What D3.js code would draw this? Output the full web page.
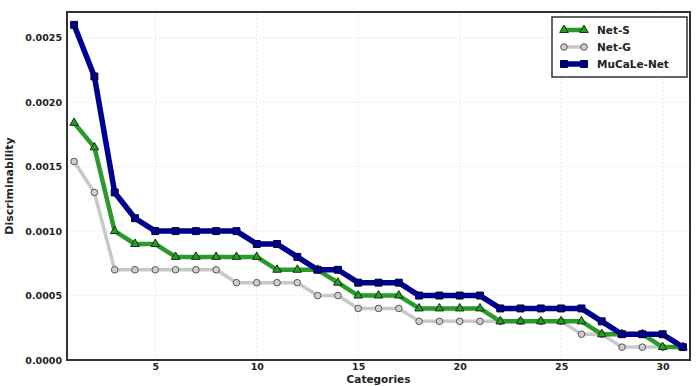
<!DOCTYPE html>
<html>
<head>
<meta charset="utf-8">
<script src="https://cdn.jsdelivr.net/npm/d3@7"></script>
<style>
  body { margin: 0; background: #fff; }
  text { font-family: "DejaVu Sans", sans-serif; font-weight: bold; fill: #222; }
</style>
</head>
<body>
<div id="chart"></div>
<script>
var categories = d3.range(1, 32);
var netS = [0.00184, 0.00165, 0.0010, 0.0009, 0.0009, 0.0008, 0.0008, 0.0008, 0.0008, 0.0008,
            0.0007, 0.0007, 0.0007, 0.0006, 0.0005, 0.0005, 0.0005, 0.0004, 0.0004, 0.0004,
            0.0004, 0.0003, 0.0003, 0.0003, 0.0003, 0.0003, 0.0002, 0.0002, 0.0002, 0.0001, 0.0001];
var netG = [0.00154, 0.0013, 0.0007, 0.0007, 0.0007, 0.0007, 0.0007, 0.0007, 0.0006, 0.0006,
            0.0006, 0.0006, 0.0005, 0.0005, 0.0004, 0.0004, 0.0004, 0.0003, 0.0003, 0.0003,
            0.0003, 0.0003, 0.0003, 0.0003, 0.0003, 0.0002, 0.0002, 0.0001, 0.0001, 0.0001, 0.0001];
var mucale = [0.0026, 0.0022, 0.0013, 0.0011, 0.0010, 0.0010, 0.0010, 0.0010, 0.0010, 0.0009,
              0.0009, 0.0008, 0.0007, 0.0007, 0.0006, 0.0006, 0.0006, 0.0005, 0.0005, 0.0005,
              0.0005, 0.0004, 0.0004, 0.0004, 0.0004, 0.0004, 0.0003, 0.0002, 0.0002, 0.0002, 0.0001];
var xTicks = [5, 10, 15, 20, 25, 30];
var yTicks = [0, 0.0005, 0.0010, 0.0015, 0.0020, 0.0025];

function drawChart() {
    var width = 700, height = 386;
    var margin = {left: 67, right: 10, top: 12, bottom: 26};

    var svg = d3.select('#chart').append('svg')
        .attr('width', width)
        .attr('height', height);

    var x = d3.scaleLinear().domain([0.65, 31.35]).range([margin.left, width - margin.right]);
    var y = d3.scaleLinear().domain([0, 0.0027]).range([height - margin.bottom, margin.top]);

    // grid
    var grid = svg.append('g');
    grid.selectAll('line.gx').data(xTicks).enter().append('line')
        .attr('x1', function(d) { return x(d); }).attr('x2', function(d) { return x(d); })
        .attr('y1', y(0)).attr('y2', margin.top)
        .attr('stroke', '#e8e8e8').attr('stroke-width', 1).attr('stroke-dasharray', '2,2');
    grid.selectAll('line.gy').data(yTicks).enter().append('line')
        .attr('y1', function(d) { return y(d); }).attr('y2', function(d) { return y(d); })
        .attr('x1', margin.left).attr('x2', width - margin.right)
        .attr('stroke', '#e8e8e8').attr('stroke-width', 1).attr('stroke-dasharray', '2,2');

    // axes
    var xAxis = d3.axisBottom(x).tickValues(xTicks).tickSize(0).tickPadding(3);
    var yAxis = d3.axisLeft(y).tickValues(yTicks).tickFormat(d3.format('.4f')).tickSize(0).tickPadding(5);
    svg.append('g').attr('transform', 'translate(0,' + y(0) + ')').call(xAxis)
        .call(function(g) { g.select('.domain').remove(); })
        .selectAll('text').style('font-size', '9.5px').attr('fill', '#222');
    svg.append('g').attr('transform', 'translate(' + margin.left + ',0)').call(yAxis)
        .call(function(g) { g.select('.domain').remove(); })
        .selectAll('text').style('font-size', '9.5px').attr('fill', '#222');

    var line = d3.line()
        .x(function(d, i) { return x(categories[i]); })
        .y(function(d) { return y(d); });

    var series = [
        {name: 'Net-G', data: netG, stroke: '#c8c8c8', width: 3.5, marker: 'circle', fill: '#d0d0d0', edge: '#555'},
        {name: 'Net-S', data: netS, stroke: '#2a9a2a', width: 4.5, marker: 'triangle', fill: '#2a9a2a', edge: '#0a3a0a'},
        {name: 'MuCaLe-Net', data: mucale, stroke: '#000090', width: 5.5, marker: 'square', fill: '#000090', edge: '#000030'}
    ];

    var symbolFor = function(m) {
        if (m === 'circle') return d3.symbol().type(d3.symbolCircle).size(34);
        if (m === 'triangle') return d3.symbol().type(d3.symbolTriangle).size(32);
        return d3.symbol().type(d3.symbolSquare).size(48);
    };

    series.forEach(function(s) {
        svg.append('path').datum(s.data)
            .attr('d', line)
            .attr('fill', 'none')
            .attr('stroke', s.stroke)
            .attr('stroke-width', s.width)
            .attr('stroke-linejoin', 'round');
        svg.append('g').selectAll('path').data(s.data).enter().append('path')
            .attr('d', symbolFor(s.marker))
            .attr('transform', function(d, i) {
                return 'translate(' + x(categories[i]) + ',' + y(d) + ')';
            })
            .attr('fill', s.fill)
            .attr('stroke', s.edge)
            .attr('stroke-width', 1);
    });

    // frame
    svg.append('rect')
        .attr('x', margin.left).attr('y', margin.top)
        .attr('width', width - margin.right - margin.left)
        .attr('height', y(0) - margin.top)
        .attr('fill', 'none').attr('stroke', '#333').attr('stroke-width', 2);

    // axis labels
    svg.append('text')
        .attr('x', (margin.left + width - margin.right) / 2).attr('y', 383)
        .attr('text-anchor', 'middle').style('font-size', '10.5px')
        .text('Categories');
    svg.append('text')
        .attr('transform', 'translate(13,' + ((margin.top + y(0)) / 2) + ') rotate(-90)')
        .attr('text-anchor', 'middle').style('font-size', '11px')
        .text('Discriminability');

    // legend
    var legendOrder = [series[1], series[0], series[2]];
    var lg = svg.append('g').attr('transform', 'translate(552,17)');
    lg.append('rect').attr('width', 135).attr('height', 60)
        .attr('fill', '#fff').attr('stroke', '#333').attr('stroke-width', 1.5);
    legendOrder.forEach(function(s, i) {
        var row = lg.append('g').attr('transform', 'translate(8,' + (13 + i * 17) + ')');
        row.append('line').attr('x1', 4).attr('x2', 24).attr('y1', 0).attr('y2', 0)
            .attr('stroke', s.stroke).attr('stroke-width', s.width);
        [4, 24].forEach(function(px) {
            row.append('path').attr('d', symbolFor(s.marker))
                .attr('transform', 'translate(' + px + ',0)')
                .attr('fill', s.fill).attr('stroke', s.edge).attr('stroke-width', 1);
        });
        row.append('text').attr('x', 37).attr('y', 4).style('font-size', '10.5px').text(s.name);
    });
}

document.addEventListener('DOMContentLoaded', drawChart);
</script>
</body>
</html>
